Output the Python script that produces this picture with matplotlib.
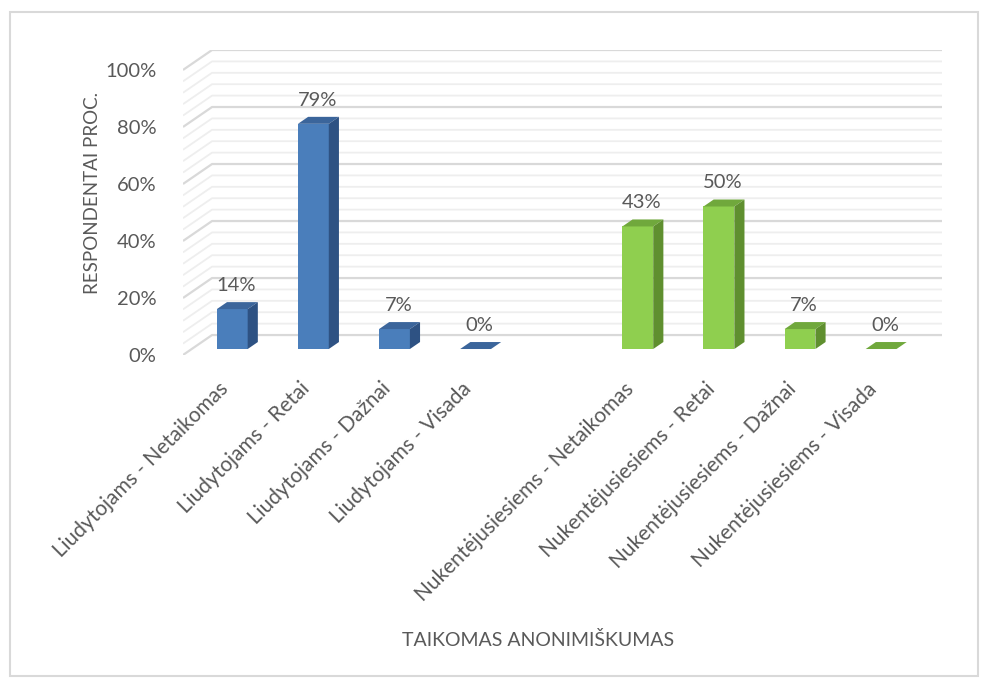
import matplotlib.pyplot as plt
from matplotlib.patches import Polygon, Rectangle

plt.rcParams['font.family'] = ['Lato', 'DejaVu Sans']

# categories (slot 4 is an empty gap between the two groups)
LABELS = ["Liudytojams - Netaikomas", "Liudytojams - Retai",
          "Liudytojams - Dažnai", "Liudytojams - Visada",
          "",
          "Nukentėjusiesiems - Netaikomas", "Nukentėjusiesiems - Retai",
          "Nukentėjusiesiems - Dažnai", "Nukentėjusiesiems - Visada"]
VALUES = [14, 79, 7, 0, None, 43, 50, 7, 0]
GROUP = ["blue", "blue", "blue", "blue", None, "green", "green", "green", "green"]

Y_TICKS = [0, 20, 40, 60, 80, 100]
Y_TICK_LABELS = ["0%", "20%", "40%", "60%", "80%", "100%"]

COLORS = {
    "blue": ("#4a7ebb", "#3b659b", "#2e5283"),   # front, top, side
    "green": ("#8fcf4f", "#70a83c", "#5f8f2f"),
}
TXT = "#595959"

# pseudo 3d depth of the wall (in data units) and bar depth fractions
DX = 0.358
DY = 7.0
BF, BB = 0.3, 0.65
W = 0.38

fig = plt.figure(figsize=(9.88, 6.86), dpi=100)
ax = fig.add_axes([183 / 988, 1 - 355 / 686, 759 / 988, 305 / 686])
n = len(LABELS)
ax.set_xlim(-0.5, n - 0.5 + DX)
ax.set_ylim(0, 100 + DY)
for s in ax.spines.values():
    s.set_visible(False)

# gridlines: floor/side wall slant + back wall
for v in range(0, 101, 4):
    major = v % 20 == 0
    col = "#d9d9d9" if major else "#eeeeee"
    lw = 1.6 if major else 1.3
    ax.plot([-0.5, -0.5 + DX, n - 0.5 + DX], [v, v + DY, v + DY],
            color=col, lw=lw, zorder=1, solid_capstyle="butt")

for i, (v, g) in enumerate(zip(VALUES, GROUP)):
    if v is None:
        continue
    front, top, side = COLORS[g]
    xl = i - W / 2
    xr = i + W / 2
    fx, fy = BF * DX, BF * DY
    bx, by = BB * DX, BB * DY
    ax.add_patch(Rectangle((xl + fx, fy), W, v, facecolor=front,
                           edgecolor="none", zorder=3))
    ax.add_patch(Polygon([(xl + fx, v + fy), (xr + fx, v + fy),
                          (xr + bx, v + by), (xl + bx, v + by)],
                         closed=True, facecolor=top, edgecolor="none", zorder=3))
    ax.add_patch(Polygon([(xr + fx, fy), (xr + bx, by),
                          (xr + bx, v + by), (xr + fx, v + fy)],
                         closed=True, facecolor=side, edgecolor="none", zorder=3))
    ax.annotate(f"{v}%", (i + fx + 0.05, v + by), xytext=(0, 6),
                textcoords="offset points", ha="center", va="bottom",
                fontsize=14.5, color=TXT, zorder=4)

ax.set_yticks(Y_TICKS, Y_TICK_LABELS)
ax.tick_params(axis="y", length=0, pad=19, labelsize=14.5, labelcolor=TXT)

ticks = [i + BF * DX for i in range(n) if LABELS[i]]
ax.set_xticks(ticks, [l for l in LABELS if l], rotation=45, ha="right",
              va="top", rotation_mode="default")
ax.tick_params(axis="x", length=0, pad=17, labelsize=15, labelcolor=TXT)

fig.text(92 / 988, 1 - 193 / 686, "RESPONDENTAI PROC.", rotation=90,
         ha="center", va="center", fontsize=13.5, color=TXT)
fig.text(538 / 988, 1 - 640 / 686, "TAIKOMAS ANONIMIŠKUMAS",
         ha="center", va="center", fontsize=14, color=TXT)

fig.add_artist(Rectangle((10 / 988, 10 / 686), 968 / 988, 664 / 686,
                         transform=fig.transFigure, fill=False,
                         edgecolor="#d9d9d9", lw=1.5))

fig.savefig("out.png", dpi=100)
